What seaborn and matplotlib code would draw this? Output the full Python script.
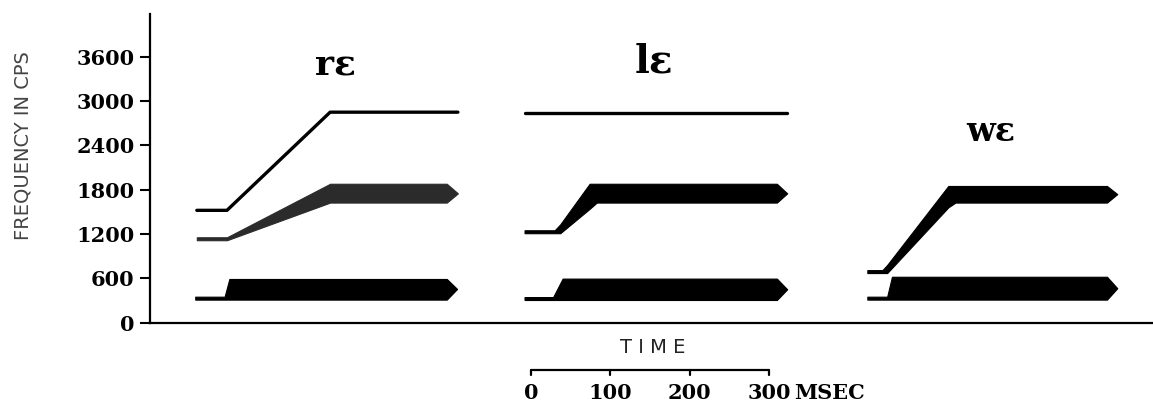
import matplotlib
matplotlib.use("Agg")
import matplotlib.pyplot as plt
import numpy as np
import pandas as pd
import seaborn as sns

# time in msec (0 = start of the scale bar), frequency in cps
yticks = [0, 600, 1200, 1800, 2400, 3000, 3600]
scale_ticks = [0, 100, 200, 300]

# r-epsilon
re_f3_t = [-421, -383, -253, -92]
re_f3_f = [1520, 1520, 2850, 2850]
re_f2_t = [-421, -383, -253, -106, -92]
re_f2_lo = [1115, 1115, 1625, 1625, 1750]
re_f2_hi = [1155, 1155, 1880, 1880, 1750]
re_f1_t = [-423, -386, -380, -106, -93]
re_f1_lo = [310, 310, 310, 310, 455]
re_f1_hi = [350, 350, 590, 590, 455]

# l-epsilon
le_f3_t = [-8, 323]
le_f3_f = [2840, 2840]
le_f2_t = [-8, 30, 37, 74, 83, 310, 323]
le_f2_lo = [1210, 1210, 1210, 1540, 1625, 1625, 1750]
le_f2_hi = [1250, 1250, 1330, 1880, 1880, 1880, 1750]
le_f1_t = [-8, 28, 40, 310, 323]
le_f1_lo = [305, 305, 305, 305, 450]
le_f1_hi = [345, 345, 595, 595, 450]

# w-epsilon
we_f2_t = [424, 443, 449, 526, 535, 726, 739]
we_f2_lo = [670, 670, 670, 1560, 1625, 1625, 1740]
we_f2_hi = [710, 710, 780, 1850, 1850, 1850, 1740]
we_f1_t = [424, 449, 455, 726, 739]
we_f1_lo = [310, 310, 310, 310, 465]
we_f1_hi = [350, 350, 620, 620, 465]

sns.set_style("ticks", {"axes.edgecolor": "black", "xtick.color": "black",
                        "ytick.color": "black", "text.color": "black"})

fig = plt.figure(figsize=(11.53, 4.04), dpi=100)
ax = fig.add_axes([0.1301, 0.2017, 0.8699, 0.7636])

# thin F3 lines
for t, f in [(re_f3_t, re_f3_f), (le_f3_t, le_f3_f)]:
    sns.lineplot(x=t, y=f, ax=ax, color="black", lw=2.4, sort=False,
                 estimator=None)

bands = [
    (re_f2_t, re_f2_lo, re_f2_hi, "#2b2b2b"),
    (re_f1_t, re_f1_lo, re_f1_hi, "black"),
    (le_f2_t, le_f2_lo, le_f2_hi, "black"),
    (le_f1_t, le_f1_lo, le_f1_hi, "black"),
    (we_f2_t, we_f2_lo, we_f2_hi, "black"),
    (we_f1_t, we_f1_lo, we_f1_hi, "black"),
]
for t, lo, hi, c in bands:
    ax.fill_between(t, lo, hi, color=c, lw=0.8, edgecolor=c)

ax.set_xlim(-480, 784)
ax.set_ylim(0, 4180)
ax.set_xticks([])
ax.set_yticks(yticks)
ax.set_yticklabels([str(v) for v in yticks], family="DejaVu Serif",
                   fontweight="bold", fontsize=15)
ax.tick_params(axis="y", length=7, width=1.5, pad=4, colors="black")
sns.despine(ax=ax)
ax.spines["left"].set_linewidth(1.6)
ax.spines["bottom"].set_linewidth(1.6)

ax.set_ylabel("FREQUENCY IN CPS", fontsize=14, color="#444444",
              family="DejaVu Sans")
ax.yaxis.set_label_coords(-0.117, 0.572)

# syllable labels
ax.text(-246, 3352, "rε", fontsize=26, family="DejaVu Serif", fontweight="bold",
        ha="center", va="baseline")
ax.text(155, 3390, "lε", fontsize=28, family="DejaVu Serif", fontweight="bold",
        ha="center", va="baseline")
ax.text(580, 2458, "wε", fontsize=24, family="DejaVu Serif", fontweight="bold",
        ha="center", va="baseline")

# time scale bar under the axis
ax.text(153, -345, "T I M E", fontsize=14, color="#222222", family="DejaVu Sans",
        ha="center", va="center", clip_on=False)
ax.plot([scale_ticks[0], scale_ticks[-1]], [-643, -643], color="black", lw=1.6,
        clip_on=False)
for s in scale_ticks:
    ax.plot([s, s], [-643, -710], color="black", lw=1.6, clip_on=False)
    ax.text(s, -960, str(s), fontsize=15, family="DejaVu Serif", fontweight="bold",
            ha="center", va="center", clip_on=False)
ax.text(332, -960, "MSEC", fontsize=15, family="DejaVu Serif", fontweight="bold",
        ha="left", va="center", clip_on=False)

fig.savefig("out.png", dpi=100)
